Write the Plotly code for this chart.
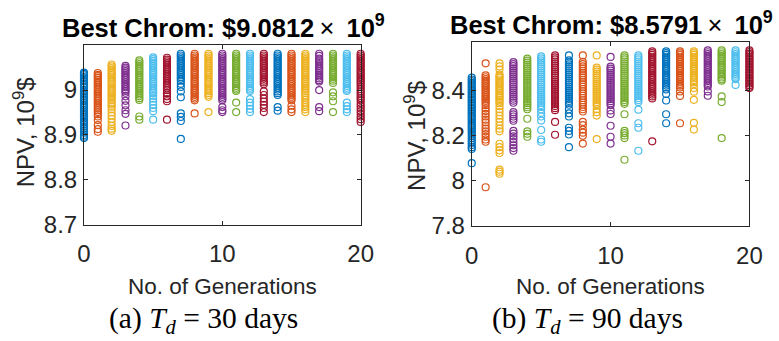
import plotly.graph_objects as go

W, H = 779, 341

# MATLAB default colour order, cycled over the generations
line_colors = ["#0072BD", "#D95319", "#EDB120", "#7E2F8E", "#77AC30", "#4DBEEE", "#A2142F"]

generations = list(range(21))
x_ticks = [0, 10, 20]
y_ticks_30 = [8.7, 8.8, 8.9, 9.0]
y_ticklabels_30 = ["8.7", "8.8", "8.9", "9"]
y_ticks_90 = [7.8, 8.0, 8.2, 8.4]
y_ticklabels_90 = ["7.8", "8", "8.2", "8.4"]

best_30 = "9.0812"
best_90 = "8.5791"

# ---- population NPV (1e9 $) per generation, T_d = 30 days ----
g00_30 = [9.039, 9.036, 9.033, 9.029, 9.026, 9.022, 9.019, 9.015, 9.011, 9.006, 9.0, 8.997, 8.993, 8.99, 8.986, 8.982, 8.979, 8.975, 8.971, 8.967, 8.963, 8.96, 8.956, 8.952, 8.948, 8.944, 8.94, 8.936, 8.931, 8.927, 8.923, 8.918, 8.914, 8.909, 8.905, 8.9, 8.896, 8.893]
g01_30 = [9.038, 9.034, 9.031, 9.027, 9.023, 9.019, 9.015, 9.011, 9.007, 9.003, 8.999, 8.995, 8.991, 8.987, 8.983, 8.979, 8.975, 8.971, 8.967, 8.963, 8.959, 8.955, 8.951, 8.946, 8.941, 8.933, 8.922, 8.913, 8.907]
g02_30 = [9.057, 9.053, 9.049, 9.045, 9.041, 9.037, 9.033, 9.029, 9.025, 9.021, 9.017, 9.013, 9.009, 9.005, 9.001, 8.997, 8.993, 8.989, 8.985, 8.981, 8.977, 8.972, 8.968, 8.963, 8.957, 8.95, 8.943, 8.936, 8.928, 8.92, 8.914, 8.909]
g03_30 = [9.054, 9.05, 9.046, 9.042, 9.038, 9.034, 9.03, 9.026, 9.022, 9.018, 9.014, 9.01, 9.006, 9.002, 8.998, 8.994, 8.986, 8.976, 8.966, 8.955, 8.947, 8.921]
g04_30 = [9.066, 9.062, 9.058, 9.054, 9.05, 9.046, 9.042, 9.038, 9.034, 9.03, 9.026, 9.022, 9.018, 9.014, 9.01, 9.006, 9.002, 8.998, 8.994, 8.99, 8.986, 8.982, 8.978, 8.941, 8.934]
g05_30 = [9.073, 9.069, 9.065, 9.061, 9.057, 9.053, 9.049, 9.045, 9.041, 9.037, 9.033, 9.029, 9.025, 9.021, 9.017, 9.013, 9.009, 9.005, 9.001, 8.997, 8.993, 8.987, 8.981, 8.974, 8.967, 8.96, 8.953, 8.934]
g06_30 = [9.072, 9.068, 9.064, 9.06, 9.056, 9.052, 9.048, 9.044, 9.04, 9.036, 9.032, 9.028, 9.024, 9.02, 9.016, 9.012, 9.008, 9.004, 9.0, 8.993, 8.986, 8.98, 8.975, 8.934]
g07_30 = [9.081, 9.077, 9.073, 9.069, 9.065, 9.061, 9.057, 9.053, 9.049, 9.045, 9.041, 9.037, 9.033, 9.029, 9.025, 9.021, 9.014, 9.007, 8.997, 8.984, 8.948, 8.94, 8.931, 8.891]
g08_30 = [9.081, 9.077, 9.073, 9.069, 9.065, 9.061, 9.057, 9.053, 9.049, 9.045, 9.041, 9.037, 9.033, 9.029, 9.025, 9.021, 9.017, 9.013, 9.009, 9.005, 9.001, 8.997, 8.993, 8.989, 8.985, 8.981, 8.977, 8.948]
g09_30 = [9.081, 9.077, 9.073, 9.069, 9.065, 9.061, 9.057, 9.053, 9.049, 9.045, 9.041, 9.037, 9.033, 9.029, 9.025, 9.021, 9.017, 9.013, 9.009, 9.005, 9.001, 8.997, 8.993, 8.989, 8.985, 8.951]
g10_30 = [9.081, 9.077, 9.073, 9.069, 9.065, 9.061, 9.057, 9.053, 9.049, 9.045, 9.041, 9.037, 9.033, 9.029, 9.025, 9.021, 9.017, 9.013, 9.009, 9.005, 9.001, 8.997, 8.993, 8.989, 8.985, 8.981, 8.977, 8.962, 8.955, 8.951]
g11_30 = [9.081, 9.077, 9.073, 9.069, 9.065, 9.061, 9.057, 9.053, 9.049, 9.045, 9.041, 9.037, 9.033, 9.029, 9.025, 9.021, 9.017, 9.013, 9.009, 9.005, 9.001, 8.998, 8.972, 8.951]
g12_30 = [9.081, 9.077, 9.073, 9.069, 9.065, 9.061, 9.057, 9.053, 9.049, 9.045, 9.041, 9.037, 9.033, 9.029, 9.025, 9.021, 9.017, 9.013, 9.009, 9.005, 9.001, 8.998, 8.98, 8.972, 8.965, 8.958, 8.951]
g13_30 = [9.081, 9.077, 9.073, 9.069, 9.065, 9.061, 9.057, 9.053, 9.049, 9.045, 9.041, 9.037, 9.033, 9.029, 9.025, 9.021, 9.017, 9.013, 8.997, 8.989, 8.981, 8.974, 8.967, 8.96, 8.951]
g14_30 = [9.081, 9.077, 9.073, 9.069, 9.065, 9.061, 9.057, 9.053, 9.049, 9.045, 9.041, 9.037, 9.033, 9.029, 9.025, 9.021, 9.017, 9.013, 9.009, 9.005, 9.001, 8.997, 8.993, 8.989, 8.962, 8.954]
g15_30 = [9.081, 9.077, 9.073, 9.069, 9.065, 9.061, 9.057, 9.053, 9.049, 9.045, 9.041, 9.037, 9.033, 9.029, 9.025, 9.021, 9.017, 9.013, 9.009, 9.005, 9.001, 8.997, 8.993, 8.989, 8.985, 8.981, 8.977, 8.965, 8.957, 8.951]
g16_30 = [9.081, 9.077, 9.073, 9.069, 9.065, 9.061, 9.057, 9.053, 9.049, 9.045, 9.041, 9.037, 9.033, 9.029, 9.025, 9.021, 9.017, 9.013, 9.009, 9.005, 9.001, 8.997, 8.993, 8.988, 8.983, 8.978, 8.972, 8.967, 8.962, 8.957, 8.951]
g17_30 = [9.081, 9.076, 9.07, 9.066, 9.062, 9.058, 9.054, 9.05, 9.046, 9.042, 9.038, 9.034, 9.03, 9.026, 9.022, 9.019, 9.0, 8.962, 8.953]
g18_30 = [9.081, 9.077, 9.073, 9.069, 9.065, 9.061, 9.057, 9.053, 9.049, 9.045, 9.041, 9.037, 9.033, 9.029, 9.025, 9.021, 9.016, 8.995, 8.986, 8.975, 8.951]
g19_30 = [9.081, 9.077, 9.073, 9.069, 9.065, 9.061, 9.057, 9.053, 9.049, 9.045, 9.041, 9.037, 9.033, 9.029, 9.025, 9.021, 9.017, 9.013, 9.009, 9.005, 9.001, 8.998, 8.972, 8.964, 8.957, 8.951]
g20_30 = [9.081, 9.077, 9.073, 9.069, 9.065, 9.061, 9.057, 9.053, 9.049, 9.045, 9.041, 9.037, 9.033, 9.029, 9.025, 9.021, 9.017, 9.012, 9.007, 9.002, 8.997, 8.992, 8.987, 8.982, 8.977, 8.971, 8.965, 8.959, 8.953, 8.947, 8.941, 8.935, 8.929]

# ---- population NPV (1e9 $) per generation, T_d = 90 days ----
g00_90 = [8.458, 8.45, 8.443, 8.435, 8.428, 8.42, 8.412, 8.405, 8.397, 8.39, 8.383, 8.376, 8.369, 8.362, 8.355, 8.348, 8.341, 8.334, 8.327, 8.32, 8.312, 8.305, 8.298, 8.29, 8.282, 8.274, 8.266, 8.258, 8.25, 8.242, 8.234, 8.226, 8.218, 8.21, 8.2, 8.19, 8.18, 8.17, 8.16, 8.15, 8.142, 8.079]
g01_90 = [8.522, 8.468, 8.46, 8.452, 8.444, 8.436, 8.428, 8.42, 8.412, 8.404, 8.396, 8.388, 8.38, 8.372, 8.364, 8.356, 8.346, 8.336, 8.322, 8.31, 8.298, 8.286, 8.272, 8.26, 8.246, 8.232, 8.22, 8.208, 8.196, 8.184, 8.174, 7.972]
g02_90 = [8.522, 8.508, 8.494, 8.472, 8.465, 8.458, 8.45, 8.442, 8.435, 8.428, 8.42, 8.412, 8.405, 8.398, 8.39, 8.382, 8.375, 8.368, 8.36, 8.352, 8.345, 8.332, 8.318, 8.305, 8.29, 8.276, 8.262, 8.246, 8.232, 8.22, 8.165, 8.15, 8.136, 8.124, 8.05, 8.041, 8.032]
g03_90 = [8.527, 8.518, 8.509, 8.5, 8.491, 8.482, 8.473, 8.464, 8.455, 8.446, 8.437, 8.428, 8.419, 8.41, 8.401, 8.392, 8.383, 8.374, 8.365, 8.356, 8.347, 8.305, 8.295, 8.286, 8.276, 8.267, 8.222, 8.21, 8.198, 8.186, 8.172, 8.158, 8.146, 8.134]
g04_90 = [8.543, 8.534, 8.525, 8.516, 8.507, 8.498, 8.489, 8.48, 8.471, 8.462, 8.453, 8.444, 8.435, 8.426, 8.417, 8.408, 8.399, 8.39, 8.381, 8.372, 8.363, 8.354, 8.345, 8.336, 8.327, 8.318, 8.276, 8.22, 8.209, 8.196]
g05_90 = [8.553, 8.544, 8.535, 8.526, 8.517, 8.508, 8.499, 8.49, 8.481, 8.472, 8.463, 8.454, 8.445, 8.436, 8.427, 8.418, 8.409, 8.4, 8.391, 8.382, 8.373, 8.364, 8.355, 8.346, 8.337, 8.328, 8.318, 8.302, 8.286, 8.268, 8.226, 8.184, 8.174]
g06_90 = [8.557, 8.548, 8.539, 8.53, 8.521, 8.512, 8.503, 8.494, 8.485, 8.476, 8.467, 8.458, 8.449, 8.44, 8.431, 8.422, 8.413, 8.404, 8.395, 8.386, 8.377, 8.368, 8.359, 8.35, 8.341, 8.332, 8.323, 8.314, 8.262, 8.205]
g07_90 = [8.557, 8.535, 8.526, 8.517, 8.508, 8.499, 8.49, 8.481, 8.472, 8.463, 8.454, 8.445, 8.436, 8.427, 8.418, 8.409, 8.4, 8.391, 8.382, 8.373, 8.364, 8.355, 8.346, 8.338, 8.318, 8.3, 8.286, 8.236, 8.222, 8.206, 8.15]
g08_90 = [8.557, 8.528, 8.518, 8.508, 8.498, 8.488, 8.478, 8.468, 8.458, 8.448, 8.438, 8.428, 8.418, 8.408, 8.398, 8.388, 8.378, 8.368, 8.358, 8.348, 8.338, 8.328, 8.318, 8.308, 8.262, 8.248, 8.228, 8.214, 8.2, 8.166]
g09_90 = [8.557, 8.503, 8.494, 8.485, 8.476, 8.467, 8.458, 8.449, 8.44, 8.431, 8.422, 8.413, 8.404, 8.395, 8.386, 8.377, 8.368, 8.359, 8.35, 8.341, 8.334, 8.318, 8.305, 8.29, 8.186]
g10_90 = [8.55, 8.507, 8.498, 8.489, 8.48, 8.471, 8.462, 8.453, 8.444, 8.435, 8.426, 8.417, 8.408, 8.399, 8.39, 8.381, 8.372, 8.363, 8.354, 8.345, 8.336, 8.313, 8.297, 8.245, 8.196, 8.166]
g11_90 = [8.557, 8.548, 8.539, 8.53, 8.521, 8.512, 8.503, 8.494, 8.485, 8.476, 8.467, 8.458, 8.449, 8.44, 8.431, 8.422, 8.413, 8.404, 8.395, 8.386, 8.377, 8.368, 8.359, 8.35, 8.342, 8.296, 8.222, 8.212, 8.202, 8.19, 8.094]
g12_90 = [8.557, 8.548, 8.539, 8.53, 8.521, 8.512, 8.503, 8.494, 8.485, 8.476, 8.467, 8.458, 8.449, 8.44, 8.431, 8.422, 8.413, 8.404, 8.395, 8.386, 8.377, 8.368, 8.359, 8.35, 8.316, 8.256, 8.236, 8.134]
g13_90 = [8.575, 8.567, 8.559, 8.551, 8.543, 8.535, 8.527, 8.519, 8.511, 8.503, 8.495, 8.487, 8.479, 8.471, 8.463, 8.455, 8.447, 8.439, 8.431, 8.423, 8.415, 8.407, 8.399, 8.391, 8.383, 8.375, 8.366, 8.176]
g14_90 = [8.575, 8.567, 8.559, 8.551, 8.543, 8.535, 8.527, 8.519, 8.511, 8.503, 8.495, 8.487, 8.479, 8.471, 8.463, 8.455, 8.447, 8.439, 8.431, 8.423, 8.415, 8.406, 8.386, 8.357, 8.296, 8.256]
g15_90 = [8.575, 8.567, 8.559, 8.551, 8.543, 8.535, 8.527, 8.519, 8.511, 8.503, 8.495, 8.487, 8.479, 8.471, 8.463, 8.455, 8.447, 8.439, 8.431, 8.423, 8.415, 8.397, 8.377, 8.256]
g16_90 = [8.575, 8.567, 8.559, 8.551, 8.543, 8.535, 8.527, 8.519, 8.511, 8.503, 8.495, 8.487, 8.479, 8.471, 8.463, 8.455, 8.447, 8.438, 8.43, 8.412, 8.396, 8.36, 8.258, 8.228]
g17_90 = [8.579, 8.571, 8.563, 8.555, 8.547, 8.539, 8.531, 8.523, 8.515, 8.507, 8.499, 8.491, 8.483, 8.475, 8.467, 8.459, 8.451, 8.443, 8.435, 8.427, 8.419, 8.397, 8.378]
g18_90 = [8.579, 8.571, 8.563, 8.555, 8.547, 8.539, 8.531, 8.523, 8.515, 8.507, 8.499, 8.491, 8.483, 8.475, 8.467, 8.459, 8.451, 8.445, 8.375, 8.35, 8.19]
g19_90 = [8.579, 8.571, 8.563, 8.555, 8.547, 8.539, 8.531, 8.523, 8.515, 8.507, 8.499, 8.491, 8.483, 8.475, 8.467, 8.459, 8.452, 8.426]
g20_90 = [8.579, 8.572, 8.565, 8.558, 8.551, 8.544, 8.537, 8.53, 8.523, 8.516, 8.509, 8.502, 8.495, 8.488, 8.481, 8.474, 8.467, 8.46, 8.453, 8.446, 8.439, 8.432, 8.425, 8.418, 8.412]

npv_30 = [g00_30, g01_30, g02_30, g03_30, g04_30, g05_30, g06_30, g07_30, g08_30, g09_30, g10_30,
          g11_30, g12_30, g13_30, g14_30, g15_30, g16_30, g17_30, g18_30, g19_30, g20_30]
npv_90 = [g00_90, g01_90, g02_90, g03_90, g04_90, g05_90, g06_90, g07_90, g08_90, g09_90, g10_90,
          g11_90, g12_90, g13_90, g14_90, g15_90, g16_90, g17_90, g18_90, g19_90, g20_90]


def px(x):
    return x / W


def py(y):
    return 1 - y / H


fig = go.Figure()

for axis_id, populations in (("", npv_30), ("2", npv_90)):
    for gen, values in zip(generations, populations):
        fig.add_trace(go.Scatter(
            x=[gen] * len(values),
            y=values,
            mode="markers",
            xaxis="x" + axis_id,
            yaxis="y" + axis_id,
            cliponaxis=False,
            showlegend=False,
            marker=dict(
                symbol="circle-open",
                size=7,
                color=line_colors[gen % len(line_colors)],
                line=dict(width=1.2, color=line_colors[gen % len(line_colors)]),
            ),
        ))

AX = "#262626"
TICK_FONT = dict(family="Liberation Sans, Arial, sans-serif", size=24, color=AX)
axis_common = dict(
    showline=True, linecolor=AX, linewidth=1, mirror="ticks",
    ticks="inside", ticklen=4, tickwidth=1, tickcolor=AX,
    showgrid=False, zeroline=False, tickfont=TICK_FONT,
)

fig.update_layout(
    width=W, height=H,
    margin=dict(l=0, r=0, t=0, b=0),
    paper_bgcolor="white", plot_bgcolor="white",
    xaxis=dict(domain=[px(79), px(363)], range=[0, 20], tickvals=x_ticks,
               anchor="y", ticklabelstandoff=8, **axis_common),
    yaxis=dict(domain=[py(233.5), py(47)], range=[8.7, 9.1], tickvals=y_ticks_30,
               ticktext=y_ticklabels_30, anchor="x", ticklabelstandoff=1, **axis_common),
    xaxis2=dict(domain=[px(477), px(762)], range=[0, 20], tickvals=x_ticks,
                anchor="y2", ticklabelstandoff=8, **axis_common),
    yaxis2=dict(domain=[py(235), py(44)], range=[7.8, 8.615], tickvals=y_ticks_90,
                ticktext=y_ticklabels_90, anchor="x2", ticklabelstandoff=1, **axis_common),
)

SANS = "Liberation Sans, Arial, sans-serif"
SERIF = "Liberation Serif, Times New Roman, serif"


def label(text, x, y, size, family=SANS, angle=0, color=AX):
    fig.add_annotation(text=text, x=px(x), y=py(y), xref="paper", yref="paper",
                       xanchor="center", yanchor="middle", showarrow=False,
                       textangle=angle, font=dict(family=family, size=size, color=color))


for cx, cy, best in ((222, 27, best_30), (620, 24, best_90)):
    label(f"<b>Best Chrom: ${best}</b>\u2009\u00d7\u2009 <b>10<sup>9</sup></b>", cx, cy, 25.5, color="black")

for cx in (221, 619.5):
    label("No. of Generations", cx, 298, 22.5)

label("NPV, 10<sup>9</sup>$", 17, 138, 24, angle=-90)
label("NPV, 10<sup>9</sup>$", 418, 141, 24, angle=-90)

label("(a) <i>T<sub>d</sub></i> = 30 days", 202, 333, 29.5, family=SERIF, color="black")
label("(b) <i>T<sub>d</sub></i> = 90 days", 596, 333, 29.5, family=SERIF, color="black")

fig.write_html("out.html")
